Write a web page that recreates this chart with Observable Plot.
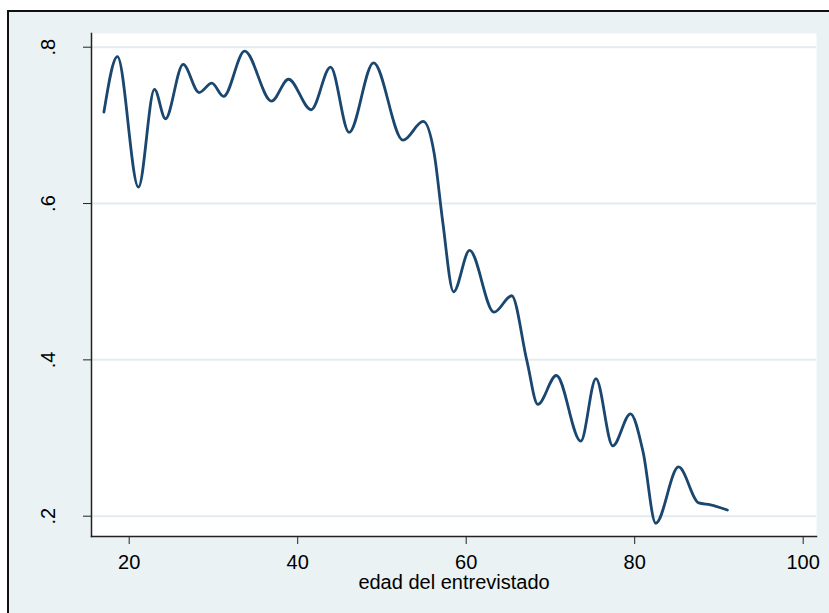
<!DOCTYPE html>
<html><head><meta charset="utf-8">
<script src="https://cdn.jsdelivr.net/npm/d3@7"></script>
<script src="https://cdn.jsdelivr.net/npm/@observablehq/plot@0.6"></script>
<style>
html,body{margin:0;padding:0;background:#fff;}
#frame{position:absolute;left:7px;top:10px;width:820px;height:601px;border-top:2px solid #111;border-left:2px solid #111;background:#eaf2f3;overflow:hidden;}
#frame svg{display:block;}
</style></head><body><div id="frame"></div>
<script>
const ages = [17.0, 18.6, 21.1, 23.0, 24.3, 26.4, 28.3, 29.8, 31.2, 33.7, 36.9, 38.9, 41.6, 43.9, 46.1, 49.0, 52.5, 54.9, 56.2, 57.2, 58.5, 60.4, 63.3, 65.4, 67.2, 68.5, 70.7, 73.6, 75.4, 77.4, 79.5, 81.0, 82.5, 85.2, 87.6, 89.0, 91.0];
const shares = [0.717, 0.788, 0.621, 0.746, 0.7085, 0.778, 0.742, 0.754, 0.737, 0.795, 0.731, 0.759, 0.720, 0.7745, 0.691, 0.780, 0.681, 0.705, 0.664, 0.578, 0.487, 0.540, 0.461, 0.482, 0.399, 0.343, 0.380, 0.296, 0.376, 0.290, 0.331, 0.282, 0.191, 0.263, 0.217, 0.2146, 0.208];
const xTicks = [20, 40, 60, 80, 100];
const yTicks = [0.2, 0.4, 0.6, 0.8];
const xLabel = "edad del entrevistado";

const data = ages.map((a, i) => ({age: a, share: shares[i]}));
const fmtY = d => d.toFixed(1).replace(/^0/, "");

const chart = Plot.plot({
  width: 820, height: 601,
  marginLeft: 82, marginTop: 21, marginRight: 13, marginBottom: 77,
  style: {background: "#eaf2f3", fontFamily: "'Liberation Sans', Arial, sans-serif", fontSize: "20px", color: "#000"},
  x: {domain: [15.525, 101.58]},
  y: {domain: [0.17403, 0.81753]},
  marks: [
    Plot.frame({fill: "#fff", stroke: "none"}),
    Plot.gridY(yTicks, {stroke: "#e4ecef", strokeOpacity: 1, strokeWidth: 2}),
    Plot.line(data, {x: "age", y: "share", stroke: "#1a476f", strokeWidth: 2.8, curve: "monotone-x"}),
    Plot.frame({anchor: "left", stroke: "#222", strokeWidth: 1.5}),
    Plot.frame({anchor: "bottom", stroke: "#222", strokeWidth: 1.5}),
    Plot.axisX(xTicks, {tickSize: 8, tickPadding: 10, fontSize: 20, label: null, stroke: "#222", fill: "#000"}),
    Plot.axisY(yTicks, {tickSize: 8, label: null, tickFormat: () => "", stroke: "#222"}),
    Plot.text(yTicks, {y: d => d, text: fmtY, frameAnchor: "left", dx: -37, rotate: -90, lineAnchor: "bottom", textAnchor: "middle", fontSize: 20, fill: "#000"}),
    Plot.text([xLabel], {text: d => d, frameAnchor: "bottom", lineAnchor: "top", dy: 38, fontSize: 20, fill: "#000"})
  ]
});
document.getElementById("frame").appendChild(chart);
</script>
</body></html>
